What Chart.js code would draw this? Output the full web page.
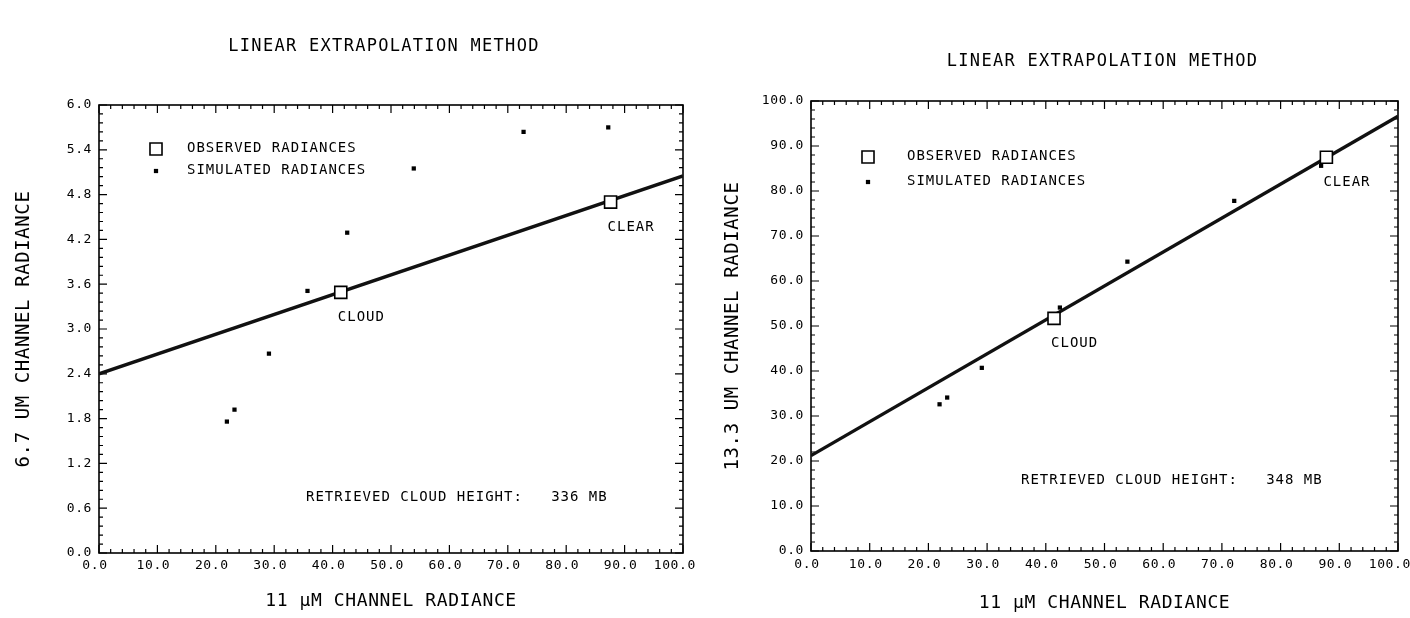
<!DOCTYPE html>
<html>
<head>
<meta charset="utf-8">
<script src="https://cdn.jsdelivr.net/npm/chart.js@4.4.1/dist/chart.umd.min.js"></script>
<style>
  html, body { margin: 0; padding: 0; background: #fff; overflow: hidden; }
  .panel { position: absolute; top: 0; width: 705px; height: 618px; }
  #left { left: 0; }
  #right { left: 705px; }
</style>
</head>
<body>
<div class="panel" id="left"><canvas id="chartLeft"></canvas></div>
<div class="panel" id="right"><canvas id="chartRight"></canvas></div>
<script>
// axis ticks (same x axis on both panels)
const xTickStep = 10;
const yTickStep67 = 0.6;
const yTickStep133 = 10;

// 6.7 um panel
const simX67 = [21.9, 23.2, 29.1, 35.7, 42.5, 53.9, 72.7, 87.2];
const simY67 = [1.76, 1.92, 2.67, 3.51, 4.29, 5.15, 5.64, 5.70];
const obsX67 = [41.4, 87.6];
const obsY67 = [3.49, 4.70];
const fitX67 = [0, 100];
const fitY67 = [2.40, 5.05];

// 13.3 um panel
const simX133 = [21.9, 23.2, 29.1, 42.4, 53.9, 72.1, 86.9];
const simY133 = [32.6, 34.1, 40.7, 54.1, 64.3, 77.8, 85.6];
const obsX133 = [41.4, 87.8];
const obsY133 = [51.7, 87.5];
const fitX133 = [0, 100];
const fitY133 = [21.2, 96.6];

const obsNames = ["CLOUD", "CLEAR"];

const FONT = "'DejaVu Sans Mono', monospace";

function pts(xs, ys) {
  return xs.map((x, i) => ({ x: x, y: ys[i] }));
}

// frame with inward ticks on all four sides, legend and text notes
const plotterPlugin = {
  id: "plotter",
  beforeUpdate(chart) {
    chart.ctx.letterSpacing = "1px";
  },
  beforeDraw(chart) {
    const ctx = chart.ctx;
    ctx.save();
    ctx.fillStyle = "#fff";
    ctx.fillRect(0, 0, chart.width, chart.height);
    ctx.restore();
    ctx.letterSpacing = "0.6px";
  },
  beforeDatasetsDraw(chart, args, opts) {
    const { ctx, chartArea: a, scales } = chart;
    ctx.save();
    ctx.strokeStyle = "#000";
    ctx.lineWidth = 1.6;
    ctx.strokeRect(a.left, a.top, a.right - a.left, a.bottom - a.top);
    ctx.lineWidth = 1.2;
    ctx.beginPath();
    ["x", "y"].forEach((id) => {
      const s = scales[id];
      const minor = s.options.ticks.stepSize / 5;
      for (let i = 0; ; i++) {
        const v = s.min + i * minor;
        if (v > s.max + minor / 100) break;
        const len = i % 5 === 0 ? 8 : 4;
        const p = s.getPixelForValue(v);
        if (id === "x") {
          ctx.moveTo(p, a.bottom); ctx.lineTo(p, a.bottom - len);
          ctx.moveTo(p, a.top); ctx.lineTo(p, a.top + len);
        } else {
          ctx.moveTo(a.left, p); ctx.lineTo(a.left + len, p);
          ctx.moveTo(a.right, p); ctx.lineTo(a.right - len, p);
        }
      }
    });
    ctx.stroke();
    ctx.restore();
  },
  afterDatasetsDraw(chart, args, opts) {
    const { ctx, chartArea: a } = chart;
    ctx.save();
    ctx.fillStyle = "#000";
    ctx.textBaseline = "middle";

    // title
    ctx.font = "17px " + FONT;
    ctx.letterSpacing = "1.3px";
    ctx.textAlign = "center";
    ctx.fillText(opts.title, (a.left + a.right) / 2 + opts.titleDx, a.top - opts.titleDy);

    // legend
    ctx.font = "14px " + FONT;
    ctx.letterSpacing = "1px";
    ctx.textAlign = "left";
    const lg = opts.legend;
    [0, 1].forEach((i) => {
      const ds = chart.data.datasets[i];
      const cy = a.top + lg.dy + i * lg.gap;
      ctx.save();
      ctx.fillStyle = ds.backgroundColor;
      ctx.strokeStyle = ds.borderColor;
      ctx.lineWidth = ds.borderWidth;
      Chart.helpers.drawPoint(ctx, {
        pointStyle: ds.pointStyle, radius: ds.pointRadius, rotation: 0, borderWidth: ds.borderWidth
      }, a.left + lg.dx, cy);
      ctx.restore();
      ctx.fillText(ds.label, a.left + lg.textDx, cy - 1);
    });

    // CLOUD / CLEAR labels under the observed squares
    const obs = chart.getDatasetMeta(0).data;
    obs.forEach((el, i) => {
      ctx.fillText(obsNames[i], el.x - 3, el.y + opts.nameDy);
    });

    // retrieved height note
    ctx.fillText(opts.note, a.left + opts.noteDx, a.bottom - opts.noteDy);
    ctx.restore();
  }
};

function makeChart(id, d) {
  return new Chart(document.getElementById(id), {
    type: "scatter",
    data: {
      datasets: [
        {
          label: "OBSERVED RADIANCES",
          data: pts(d.obsX, d.obsY),
          pointStyle: "rect",
          pointRadius: 8.5,
          pointHoverRadius: 8.5,
          backgroundColor: "#fff",
          borderColor: "#000",
          borderWidth: 1.6
        },
        {
          label: "SIMULATED RADIANCES",
          data: pts(d.simX, d.simY),
          pointStyle: "rect",
          pointRadius: 3,
          pointHoverRadius: 3,
          backgroundColor: "#000",
          borderColor: "#000",
          borderWidth: 0
        },
        {
          label: "fit",
          data: pts(d.fitX, d.fitY),
          showLine: true,
          pointRadius: 0,
          borderColor: "#111",
          borderWidth: 3.4
        }
      ]
    },
    options: {
      responsive: true,
      maintainAspectRatio: false,
      animation: false,
      events: [],
      layout: { padding: d.padding },
      plugins: {
        legend: { display: false },
        tooltip: { enabled: false },
        plotter: d.notes
      },
      scales: {
        x: {
          type: "linear",
          min: 0,
          max: 100,
          ticks: {
            stepSize: xTickStep,
            padding: d.xTickPad,
            labelOffset: -4,
            autoSkip: false,
            maxRotation: 0,
            color: "#000",
            font: { family: FONT, size: 13 },
            callback: (v) => (v === 100 ? v.toFixed(1) + " " : v.toFixed(1))
          },
          grid: { drawOnChartArea: false, drawTicks: false },
          border: { display: false },
          title: {
            display: true,
            text: "11 \u00B5M CHANNEL RADIANCE",
            color: "#000",
            font: { family: FONT, size: 18 },
            padding: { top: 4, bottom: 4 }
          },
          afterFit: (s) => { s.height = d.xHeight; s.paddingRight = 0; s.paddingLeft = 0; }
        },
        y: {
          type: "linear",
          min: 0,
          max: d.yMax,
          ticks: {
            stepSize: d.yStep,
            padding: 7,
            color: "#000",
            font: { family: FONT, size: 13 },
            callback: (v) => v.toFixed(1)
          },
          grid: { drawOnChartArea: false, drawTicks: false },
          border: { display: false },
          title: {
            display: true,
            text: d.yTitle,
            color: "#000",
            font: { family: FONT, size: 19 },
            padding: { top: d.yTitlePad, bottom: 0 }
          },
          afterFit: (s) => { s.width = d.yWidth; }
        }
      }
    },
    plugins: [plotterPlugin]
  });
}

makeChart("chartLeft", {
  obsX: obsX67, obsY: obsY67, simX: simX67, simY: simY67, fitX: fitX67, fitY: fitY67,
  yMax: 6, yStep: yTickStep67, yTitle: "6.7 UM CHANNEL RADIANCE", yTitlePad: 13,
  yWidth: 99, xHeight: 63, xTickPad: 5,
  padding: { left: 0, right: 22, top: 105, bottom: 2 },
  notes: {
    title: "LINEAR EXTRAPOLATION METHOD", titleDx: -7, titleDy: 58,
    legend: { dx: 57, dy: 44, gap: 22, textDx: 88 },
    nameDy: 25,
    note: "RETRIEVED CLOUD HEIGHT:   336 MB", noteDx: 207, noteDy: 56
  }
});

makeChart("chartRight", {
  obsX: obsX133, obsY: obsY133, simX: simX133, simY: simY133, fitX: fitX133, fitY: fitY133,
  yMax: 100, yStep: yTickStep133, yTitle: "13.3 UM CHANNEL RADIANCE", yTitlePad: 17,
  yWidth: 106, xHeight: 67, xTickPad: 6,
  padding: { left: 0, right: 12, top: 101, bottom: 0 },
  notes: {
    title: "LINEAR EXTRAPOLATION METHOD", titleDx: -2, titleDy: 39,
    legend: { dx: 57, dy: 56, gap: 25, textDx: 96 },
    nameDy: 25,
    note: "RETRIEVED CLOUD HEIGHT:   348 MB", noteDx: 210, noteDy: 71
  }
});
</script>
</body>
</html>
